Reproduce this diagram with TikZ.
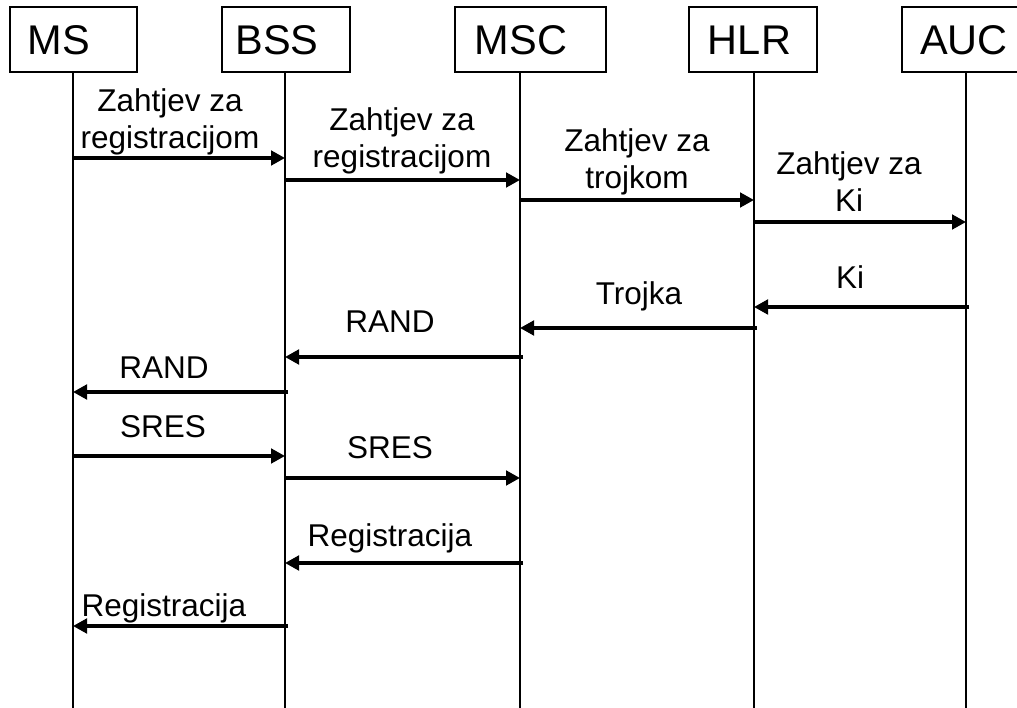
\documentclass[tikz,border=0pt]{standalone}
\usepackage{fontspec}
\setmainfont{Liberation Sans}
\usetikzlibrary{arrows.meta}
\tikzset{
  x=1pt, y=-1pt,
  entity/.style={draw, line width=1.4pt, minimum height=65pt, inner sep=0pt},
  entitytext/.style={anchor=base, inner sep=0pt, font=\fontsize{41.5}{45}\selectfont},
  lifeline/.style={line width=1.4pt},
  msg/.style={line width=3.3pt, -{Triangle[length=14pt,width=14.5pt]}},
  back/.style={msg, shorten <=-3pt},
  lbl/.style={anchor=base, inner sep=0pt, align=center, font=\fontsize{31.5}{37}\selectfont},
}
\begin{document}
\begin{tikzpicture}
\useasboundingbox (0,0) rectangle (1017,708);
\clip (0,0) rectangle (1017,708);
% boxes
\node[entity, minimum width=127pt] (bms)  at (73.5,39.5) {};
\node[entity, minimum width=128pt] (bbss) at (286,39.5) {};
\node[entity, minimum width=151pt] (bmsc) at (530.5,39.5) {};
\node[entity, minimum width=128pt] (bhlr) at (753,39.5) {};
\node[entity, minimum width=128pt] (bauc) at (966,39.5) {};
\node[entitytext] (tms)  at (59,55) {MS};
\node[entitytext] (tbss) at (277,55) {BSS};
\node[entitytext] (tmsc) at (521,55) {MSC};
\node[entitytext] (thlr) at (749.5,55) {HLR};
\node[entitytext] (tauc) at (964,55) {AUC};
% lifelines
\coordinate (ms)  at (73,72);   \coordinate (msE)  at (73,708);
\coordinate (bss) at (285,72);  \coordinate (bssE) at (285,708);
\coordinate (msc) at (520,72);  \coordinate (mscE) at (520,708);
\coordinate (hlr) at (754,72);  \coordinate (hlrE) at (754,708);
\coordinate (auc) at (966,72);  \coordinate (aucE) at (966,708);
\draw[lifeline] (ms) -- (msE);
\draw[lifeline] (bss) -- (bssE);
\draw[lifeline] (msc) -- (mscE);
\draw[lifeline] (hlr) -- (hlrE);
\draw[lifeline] (auc) -- (aucE);
% rows
\coordinate (r1) at (0,158);
\coordinate (r2) at (0,180);
\coordinate (r3) at (0,200);
\coordinate (r4) at (0,222);
\coordinate (r5) at (0,307);
\coordinate (r6) at (0,328);
\coordinate (r7) at (0,357);
\coordinate (r8) at (0,392);
\coordinate (r9) at (0,456);
\coordinate (r10) at (0,478);
\coordinate (r11) at (0,563);
\coordinate (r12) at (0,626);
% messages
\draw[msg]  (ms |- r1) -- (bss |- r1);
\draw[msg]  (bss |- r2) -- (msc |- r2);
\draw[msg]  (msc |- r3) -- (hlr |- r3);
\draw[msg]  (hlr |- r4) -- (auc |- r4);
\draw[back] (auc |- r5) -- (hlr |- r5);
\draw[back] (hlr |- r6) -- (msc |- r6);
\draw[back] (msc |- r7) -- (bss |- r7);
\draw[back] (bss |- r8) -- (ms |- r8);
\draw[msg]  (ms |- r9) -- (bss |- r9);
\draw[msg]  (bss |- r10) -- (msc |- r10);
\draw[back] (msc |- r11) -- (bss |- r11);
\draw[back] (bss |- r12) -- (ms |- r12);
% labels
\node[lbl] (l1) at (170,149) {Zahtjev za\\registracijom};
\node[lbl] (l2) at (402,168) {Zahtjev za\\registracijom};
\node[lbl] (l3) at (637,189) {Zahtjev za\\trojkom};
\node[lbl] (l4) at (849,212) {Zahtjev za\\Ki};
\node[lbl] (l5) at (850,289) {Ki};
\node[lbl] (l6) at (639,305) {Trojka};
\node[lbl] (l7) at (390,333) {RAND};
\node[lbl] (l8) at (164,378) {RAND};
\node[lbl] (l9) at (163,437) {SRES};
\node[lbl] (l10) at (390,458) {SRES};
\node[lbl] (l11) at (390,546) {Registracija};
\node[lbl] (l12) at (164,616) {Registracija};
\end{tikzpicture}
\end{document}
